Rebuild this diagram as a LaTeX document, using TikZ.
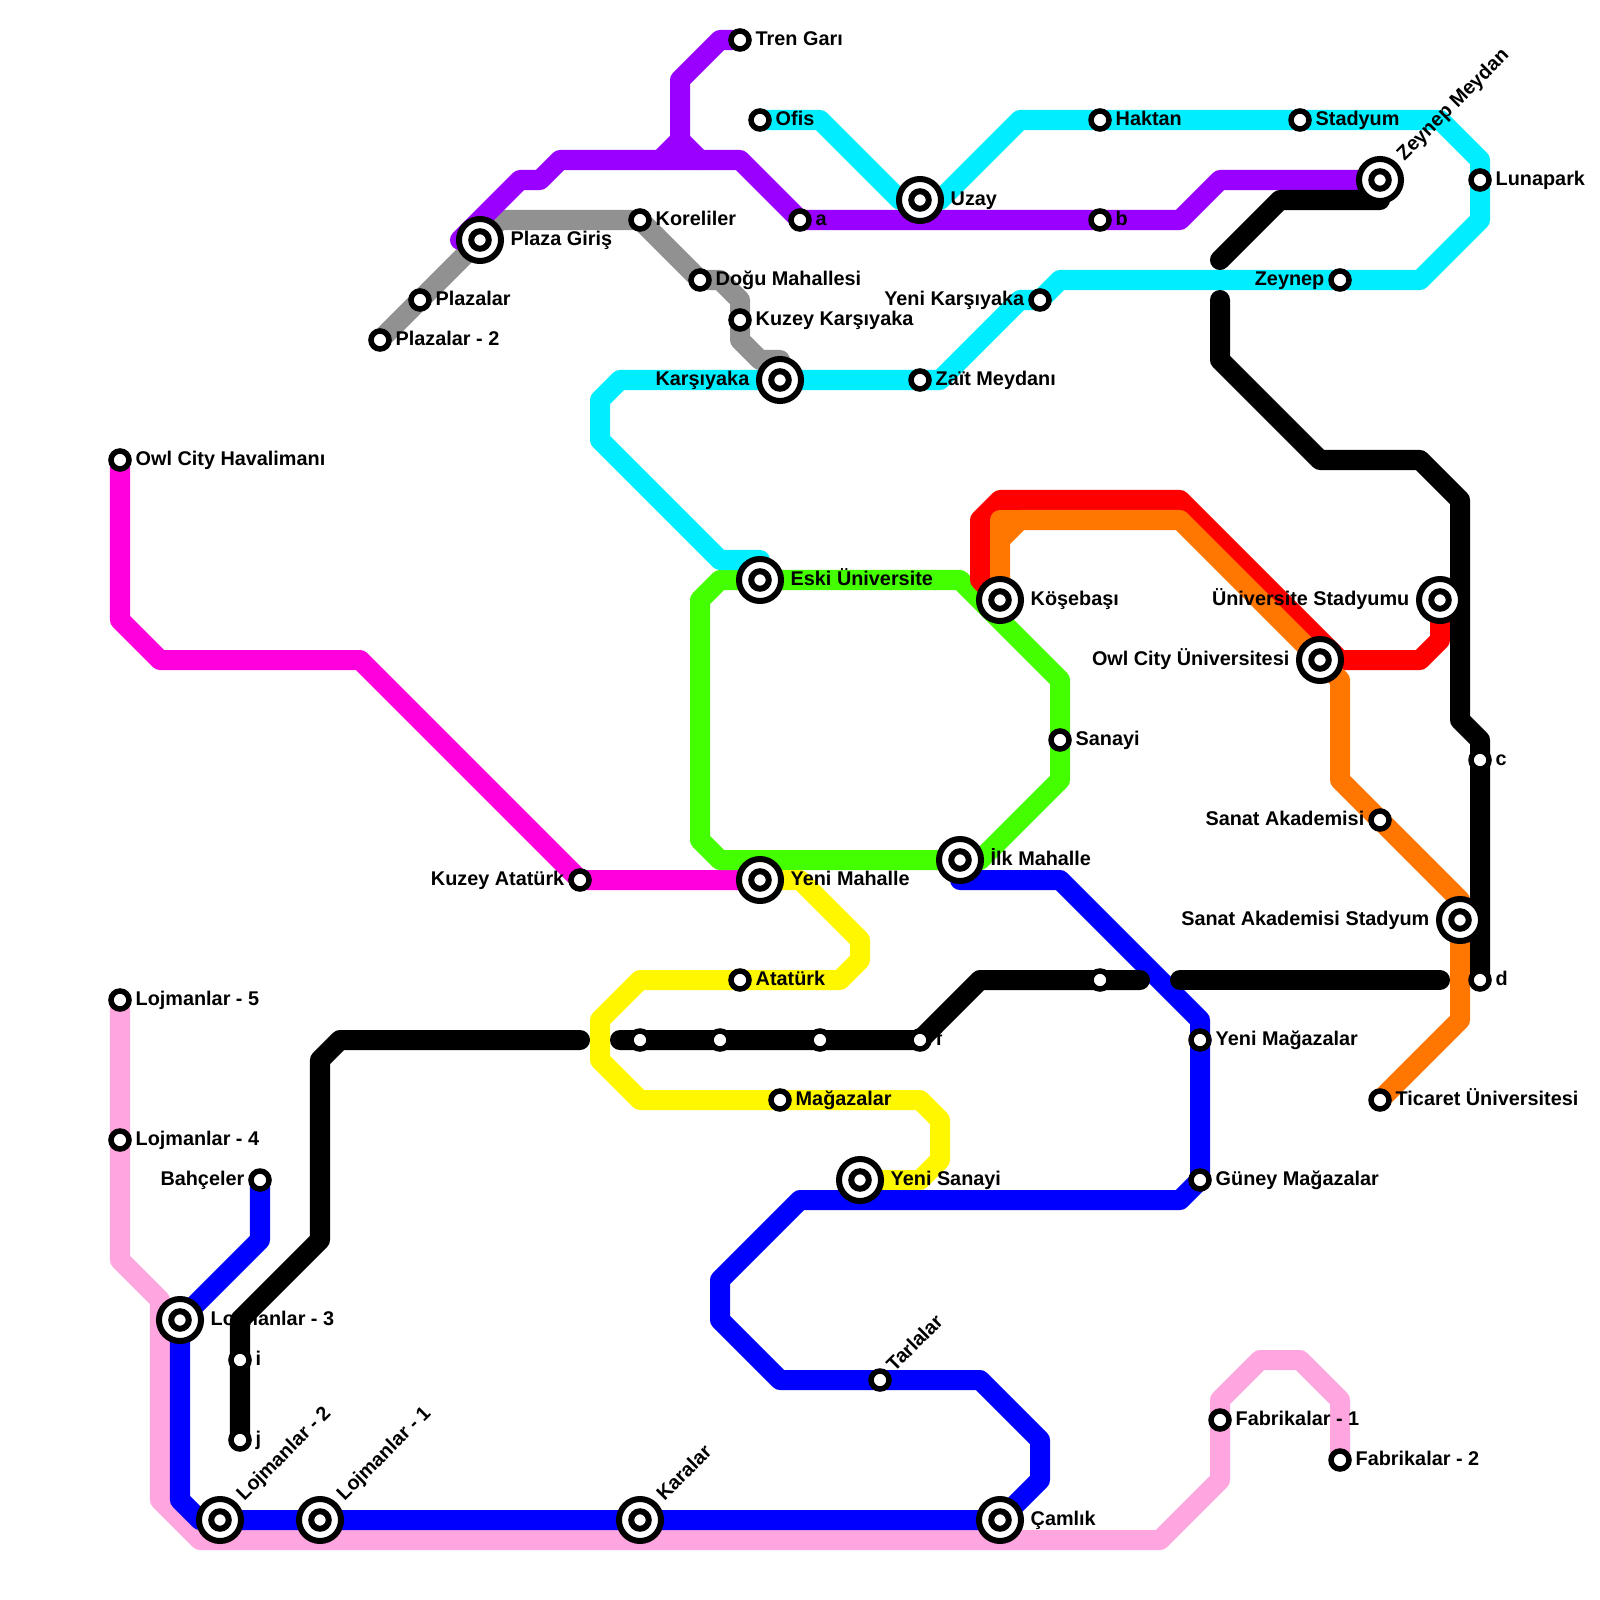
\documentclass[tikz,border=0pt]{standalone}
\usepackage{fontspec}
\setmainfont{Liberation Sans}
\usetikzlibrary{backgrounds}
\pgfdeclarelayer{foreground}
\pgfsetlayers{background,main,foreground}
\definecolor{metropurple}{HTML}{9900FF}
\definecolor{metrocyan}{HTML}{00EEFF}
\definecolor{metrogreen}{HTML}{44FF00}
\definecolor{metromagenta}{HTML}{FF00DD}
\definecolor{metroorange}{HTML}{FF7700}
\definecolor{metroyellow}{HTML}{FFF700}
\definecolor{metropink}{HTML}{FFA6E0}
\definecolor{metrogray}{HTML}{919191}

\begin{document}
\begin{tikzpicture}[
  x=0.01cm, y=-0.01cm,
  metro/.style={line width=2mm, line cap=round, line join=round},
  stop/.style={circle, draw=black, fill=white, line width=.55mm,
               minimum size=1.8mm, inner sep=0pt},
  hub/.style={circle, draw=black, fill=white, line width=.6mm,
              minimum size=4.2mm, inner sep=0pt,
              path picture={\draw[black, line width=.6mm, fill=white]
                (path picture bounding box.center) circle (.875mm);}},
  rname/.style={anchor=base west, inner sep=0pt, font=\fontsize{5.64pt}{6.5pt}\selectfont\bfseries},
  lname/.style={anchor=base east, inner sep=0pt, font=\fontsize{5.64pt}{6.5pt}\selectfont\bfseries},
  dname/.style={rname, rotate=45}
]
\useasboundingbox (0,0) rectangle (1600,1600);

% stations
\begin{pgfonlayer}{foreground}
\node[stop] (TrenGari) at (740,40) {};
\node[stop] (Ofis) at (760,120) {};
\node[hub]  (Uzay) at (920,200) {};
\node[stop] (Haktan) at (1100,120) {};
\node[stop] (Stadyum) at (1300,120) {};
\node[hub]  (ZeynepMeydan) at (1380,180) {};
\node[stop] (Lunapark) at (1480,180) {};
\node[stop] (StA) at (800,220) {};
\node[stop] (StB) at (1100,220) {};
\node[stop] (Koreliler) at (640,220) {};
\node[hub]  (PlazaGiris) at (480,240) {};
\node[stop] (DoguMah) at (700,280) {};
\node[stop] (Plazalar) at (420,300) {};
\node[stop] (PlazalarIki) at (380,340) {};
\node[stop] (KuzeyKarsi) at (740,320) {};
\node[hub]  (Karsiyaka) at (780,380) {};
\node[stop] (ZaitMeydani) at (920,380) {};
\node[stop] (YeniKarsi) at (1040,300) {};
\node[stop] (Zeynep) at (1340,280) {};
\node[stop] (Havalimani) at (120,460) {};
\node[hub]  (EskiUni) at (760,580) {};
\node[hub]  (Kosebasi) at (1000,600) {};
\node[hub]  (UniStad) at (1440,600) {};
\node[hub]  (OwlUni) at (1320,660) {};
\node[stop] (Sanayi) at (1060,740) {};
\node[stop] (StC) at (1480,760) {};
\node[stop] (SanatAk) at (1380,820) {};
\node[hub]  (IlkMah) at (960,860) {};
\node[hub]  (YeniMah) at (760,880) {};
\node[stop] (KuzeyAta) at (580,880) {};
\node[hub]  (SanatStad) at (1460,920) {};
\node[stop] (Ataturk) at (740,980) {};
\node[stop] (StD) at (1480,980) {};
\node[stop] (StE) at (1100,980) {};
\node[stop] (YeniMag) at (1200,1040) {};
\node[stop] (StF) at (920,1040) {};
\node[stop] (StG) at (820,1040) {};
\node[stop] (StH) at (720,1040) {};
\node[stop] (StK) at (640,1040) {};
\node[stop] (Magazalar) at (780,1100) {};
\node[stop] (Ticaret) at (1380,1100) {};
\node[stop] (GuneyMag) at (1200,1180) {};
\node[hub]  (YeniSanayi) at (860,1180) {};
\node[stop] (Bahceler) at (260,1180) {};
\node[stop] (LojBes) at (120,1000) {};
\node[stop] (LojDort) at (120,1140) {};
\node[hub]  (LojUc) at (180,1320) {};
\node[stop] (StI) at (240,1360) {};
\node[stop] (StJ) at (240,1440) {};
\node[hub]  (LojIki) at (220,1520) {};
\node[hub]  (LojBir) at (320,1520) {};
\node[hub]  (Karalar) at (640,1520) {};
\node[hub]  (Camlik) at (1000,1520) {};
\node[stop] (Tarlalar) at (880,1380) {};
\node[stop] (FabBir) at (1220,1420) {};
\node[stop] (FabIki) at (1340,1460) {};
\end{pgfonlayer}

% free line ends
\coordinate (purpleEnd) at (460,240);
\coordinate (grayEnd) at (780,360);
\coordinate (cyanEnd) at (760,560);
\coordinate (blueEnd) at (960,880);
\coordinate (blackA) at (1220,260);
\coordinate (blackB) at (1220,300);
\coordinate (blackC) at (620,1040);
\coordinate (blackD) at (580,1040);
\coordinate (blackE) at (1140,980);
\coordinate (blackF) at (1180,980);
\coordinate (blackG) at (1440,980);

% names
\node[rname] (n1) at (755,45.6) {Tren Garı};
\node[rname] (n2) at (775,125.6) {Ofis};
\node[rname] (n3) at (950,205.6) {Uzay};
\node[rname] (n4) at (1115,125.6) {Haktan};
\node[rname] (n5) at (1315,125.6) {Stadyum};
\node[dname] (n6) at (1404,162) {Zeynep Meydan};
\node[rname] (n7) at (1495,185.6) {Lunapark};
\node[rname] (n8) at (815,225.6) {a};
\node[rname] (n9) at (1115,225.6) {b};
\node[rname] (n10) at (655,225.6) {Koreliler};
\node[rname] (n11) at (510,245.6) {Plaza Giriş};
\node[rname] (n12) at (715,285.6) {Doğu Mahallesi};
\node[rname] (n13) at (435,305.6) {Plazalar};
\node[rname] (n14) at (395,345.6) {Plazalar - 2};
\node[rname] (n15) at (755,325.6) {Kuzey Karşıyaka};
\node[lname] (n16) at (750,385.6) {Karşıyaka};
\node[rname] (n17) at (935,385.6) {Zaït Meydanı};
\node[lname] (n18) at (1025,305.6) {Yeni Karşıyaka};
\node[lname] (n19) at (1325,285.6) {Zeynep};
\node[rname] (n20) at (135,465.6) {Owl City Havalimanı};
\node[rname] (n21) at (790,585.6) {Eski Üniversite};
\node[rname] (n22) at (1030,605.6) {Köşebaşı};
\node[lname] (n23) at (1410,605.6) {Üniversite Stadyumu};
\node[lname] (n24) at (1290,665.6) {Owl City Üniversitesi};
\node[rname] (n25) at (1075,745.6) {Sanayi};
\node[rname] (n49) at (1495,765.6) {c};
\node[lname] (n26) at (1365,825.6) {Sanat Akademisi};
\node[rname] (n27) at (990,865.6) {İlk Mahalle};
\node[rname] (n28) at (790,885.6) {Yeni Mahalle};
\node[lname] (n29) at (565,885.6) {Kuzey Atatürk};
\node[lname] (n30) at (1430,925.6) {Sanat Akademisi Stadyum};
\node[rname] (n31) at (755,985.6) {Atatürk};
\node[rname] (n50) at (1495,985.6) {d};
\node[rname] (n48) at (935,1045.6) {f};
\node[rname] (n32) at (1215,1045.6) {Yeni Mağazalar};
\node[rname] (n33) at (795,1105.6) {Mağazalar};
\node[rname] (n34) at (1395,1105.6) {Ticaret Üniversitesi};
\node[rname] (n35) at (1215,1185.6) {Güney Mağazalar};
\node[rname] (n36) at (890,1185.6) {Yeni Sanayi};
\node[lname] (n37) at (245,1185.6) {Bahçeler};
\node[rname] (n38) at (135,1005.6) {Lojmanlar - 5};
\node[rname] (n39) at (135,1145.6) {Lojmanlar - 4};
\node[rname] (n40) at (210,1325.6) {Lojmanlar - 3};
\node[rname] (n51) at (255,1365.6) {i};
\node[rname] (n52) at (255,1445.6) {j};
\node[dname] (n41) at (244,1502) {Lojmanlar - 2};
\node[dname] (n42) at (344,1502) {Lojmanlar - 1};
\node[dname] (n43) at (664,1502) {Karalar};
\node[rname] (n44) at (1030,1525.6) {Çamlık};
\node[dname] (n45) at (894,1373) {Tarlalar};
\node[rname] (n46) at (1235,1425.6) {Fabrikalar - 1};
\node[rname] (n47) at (1355,1465.6) {Fabrikalar - 2};

% coloured lines
\begin{pgfonlayer}{background}
\draw[metro, metropink] (LojBes.center) -- (LojDort.center) -- (120,1260) -- (160,1300) -- (160,1500) -- (200,1540)
  -- (1160,1540) -- (1220,1480) -- (FabBir.center) -- (1220,1400) -- (1260,1360) -- (1300,1360) -- (1340,1400) -- (FabIki.center);
\draw[metro, metromagenta] (Havalimani.center) -- (120,620) -- (160,660) -- (360,660) -- (KuzeyAta.center) -- (YeniMah.center);
\draw[metro, metrogreen] (EskiUni.center) -- (720,580) -- (700,600) -- (700,840) -- (720,860) -- (IlkMah.center)
  -- (980,860) -- (1060,780) -- (Sanayi.center) -- (1060,680) -- (960,580) -- (EskiUni.center);
\draw[metro, red] (Kosebasi.center) -- (980,580) -- (980,520) -- (1000,500) -- (1180,500) -- (1340,660)
  -- (1420,660) -- (1440,640) -- (UniStad.center);
\draw[metro, metroorange] (Kosebasi.center) -- (1000,540) -- (1020,520) -- (1180,520) -- (OwlUni.center) -- (1340,680)
  -- (1340,780) -- (SanatAk.center) -- (1460,900) -- (SanatStad.center) -- (1460,1020) -- (Ticaret.center);
\draw[metro, metroorange] (1000,540) -- (1000,520) -- (1020,520);
\draw[metro, metroyellow] (YeniMah.center) -- (800,880) -- (860,940) -- (860,960) -- (840,980) -- (Ataturk.center) -- (640,980)
  -- (600,1020) -- (600,1060) -- (640,1100) -- (Magazalar.center) -- (920,1100) -- (940,1120) -- (940,1160) -- (920,1180) -- (YeniSanayi.center);
\draw[metro, blue] (Bahceler.center) -- (260,1240) -- (LojUc.center) -- (180,1500) -- (200,1520) -- (LojIki.center) -- (LojBir.center)
  -- (Karalar.center) -- (Camlik.center) -- (1040,1480) -- (1040,1440) -- (980,1380) -- (Tarlalar.center) -- (780,1380)
  -- (720,1320) -- (720,1280) -- (800,1200) -- (1180,1200) -- (GuneyMag.center) -- (YeniMag.center) -- (1200,1020)
  -- (1060,880) -- (blueEnd);
\draw[metro, metrogray] (PlazalarIki.center) -- (Plazalar.center) -- (500,220) -- (Koreliler.center) -- (DoguMah.center) -- (720,280)
  -- (740,300) -- (KuzeyKarsi.center) -- (740,340) -- (760,360) -- (grayEnd);
\draw[metro, metropurple] (TrenGari.center) -- (720,40) -- (680,80) -- (680,140) -- (660,160);
\draw[metro, metropurple] (680,140) -- (700,160);
\draw[metro, metropurple] (purpleEnd) -- (520,180) -- (540,180) -- (560,160) -- (740,160) -- (StA.center) -- (StB.center)
  -- (1180,220) -- (1220,180) -- (ZeynepMeydan.center);
\draw[metro, metrocyan] (Ofis.center) -- (820,120) -- (900,200) -- (Uzay.center) -- (940,200) -- (1020,120) -- (Haktan.center)
  -- (Stadyum.center) -- (1440,120) -- (1480,160) -- (Lunapark.center) -- (1480,220) -- (1420,280) -- (Zeynep.center) -- (1060,280)
  -- (YeniKarsi.center) -- (1020,300) -- (940,380) -- (ZaitMeydani.center) -- (Karsiyaka.center) -- (620,380) -- (600,400) -- (600,440)
  -- (720,560) -- (cyanEnd);
\end{pgfonlayer}

% black lines run over the names
\draw[metro, black] (blackA) -- (1280,200) -- (1380,200);
\draw[metro, black] (blackB) -- (1220,360) -- (1320,460) -- (1420,460) -- (1460,500) -- (1460,720) -- (1480,740) -- (StC.center) -- (StD.center);
\draw[metro, black] (blackC) -- (StK.center) -- (StH.center) -- (StG.center) -- (StF.center) -- (980,980) -- (StE.center) -- (blackE);
\draw[metro, black] (blackF) -- (blackG);
\draw[metro, black] (blackD) -- (340,1040) -- (320,1060) -- (320,1240) -- (240,1320) -- (StI.center) -- (StJ.center);
\end{tikzpicture}
\end{document}
